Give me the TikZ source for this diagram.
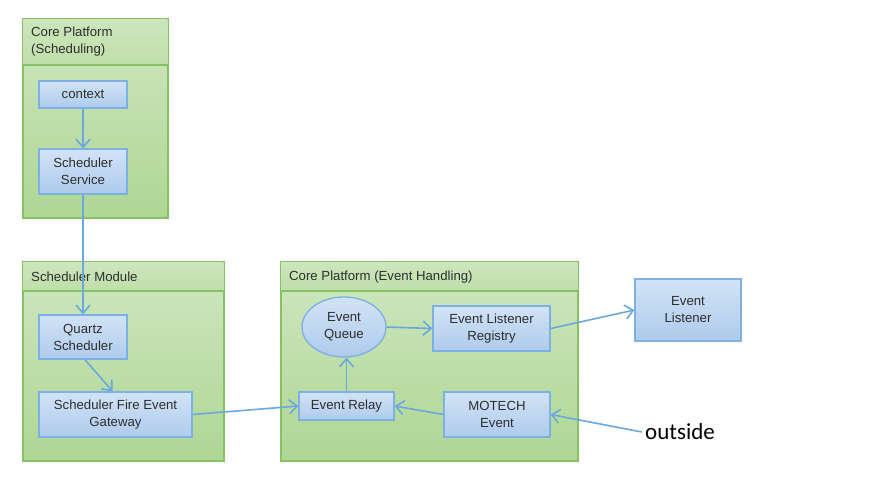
\documentclass[tikz,border=0pt]{standalone}
\usepackage{fontspec}
\setmainfont{Liberation Sans}
\newfontfamily\calibrifont{Carlito}
\usetikzlibrary{arrows.meta,calc,shapes.geometric}

\definecolor{boxtop}{HTML}{D2E3F6}
\definecolor{boxbot}{HTML}{AECBEC}
\definecolor{boxline}{HTML}{7DB1E3}
\definecolor{grptop}{HTML}{CFE7C0}
\definecolor{grpbot}{HTML}{AED694}
\definecolor{grpline}{HTML}{86C263}
\definecolor{hdrtop}{HTML}{CDE6BD}
\definecolor{hdrbot}{HTML}{BEDFA9}
\definecolor{link}{HTML}{6AA8DE}
\definecolor{ink}{HTML}{2E2E2E}

\tikzset{
  block/.style={draw=boxline, line width=1.3pt, top color=boxtop, bottom color=boxbot,
    text=ink, align=center, inner sep=2pt,
    font=\fontsize{13.2}{17}\selectfont},
  queuebox/.style={block, ellipse},
  group/.style={draw=grpline, line width=1.3pt, top color=grptop, bottom color=grpbot,
    inner sep=0pt},
  header/.style={top color=hdrtop, bottom color=hdrbot},
  grouptitle/.style={text=ink, align=left, inner sep=0pt,
    font=\fontsize{13.2}{17}\selectfont},
  flow/.style={draw=link, line width=1.6pt,
    -{Straight Barb[length=8pt,width=14pt,line width=1.6pt]}},
}

\begin{document}
\begin{tikzpicture}[x=1pt,y=-1pt]
\useasboundingbox[fill=white] (0,0) rectangle (877,480);

% --- grouping panels ---
\node[group, minimum width=145pt, minimum height=199pt] (gsched) at (95.5,118.5) {};
\node[group, minimum width=201pt, minimum height=199pt] (gmod) at (123.5,361.5) {};
\node[group, minimum width=297pt, minimum height=199pt] (gevt) at (429.5,361.5) {};

% header bands with separator lines
\shade[header] ($(gsched.north west)+(0.7,0.7)$) rectangle (167.3,65);
\draw[grpline, line width=1.2pt] (gsched.west |- 0,65) -- (gsched.east |- 0,65);
\shade[header] ($(gmod.north west)+(0.7,0.7)$) rectangle (223.3,291);
\draw[grpline, line width=1.2pt] (gmod.west |- 0,291) -- (gmod.east |- 0,291);
\shade[header] ($(gevt.north west)+(0.7,0.7)$) rectangle (577.3,291);
\draw[grpline, line width=1.2pt] (gevt.west |- 0,291) -- (gevt.east |- 0,291);

\node[grouptitle, anchor=north west] (tsched) at (31,27) {Core Platform\\(Scheduling)};
\node[grouptitle, anchor=west] (tmod) at (31,277) {Scheduler Module};
\node[grouptitle, anchor=west] (tevt) at (289,277) {Core Platform (Event Handling)};

% --- components ---
\node[block, minimum width=88pt, minimum height=27pt] (ctx) at (83,94.5) {context};
\node[block, minimum width=88pt, minimum height=45pt] (svc) at (83,171.5) {Scheduler\\Service};
\node[block, minimum width=88pt, minimum height=44pt] (quartz) at (83,337) {Quartz\\Scheduler};
\node[block, minimum width=153pt, minimum height=45pt] (gw) at (115.5,414.5) {Scheduler Fire Event\\Gateway};
\node[queuebox, minimum width=84pt, minimum height=60pt] (queue) at (344,327) {Event\\Queue};
\node[block, minimum width=117pt, minimum height=45pt] (reg) at (491.5,328.5) {Event Listener\\Registry};
\node[block, minimum width=95pt, minimum height=28pt] (relay) at (346.5,406) {Event Relay};
\node[block, minimum width=106pt, minimum height=45pt] (motech) at (497,414.5) {MOTECH\\Event};
\node[block, minimum width=106pt, minimum height=62pt] (listener) at (688,310) {Event\\Listener};
\node[text=black, inner sep=3pt, font=\calibrifont\fontsize{23}{26}\selectfont] (outside) at (680,432) {outside};

% --- connectors ---
\draw[flow] (ctx) -- (svc);
\draw[flow] (svc) -- (quartz);
\draw[flow] ($(quartz.south)+(2,0)$) -- ($(gw.north)+(-3,0)$);
\draw[flow] (gw.east) -- (relay.west);
\draw[flow] (relay.north) -- (relay.north |- queue.south);
\draw[flow] (queue.east) -- (reg.west);
\draw[flow] (reg.east) -- (listener.west);
\draw[flow] (motech.west) -- (relay.east);
\draw[flow] (outside.west) -- (motech.east);
\end{tikzpicture}
\end{document}
